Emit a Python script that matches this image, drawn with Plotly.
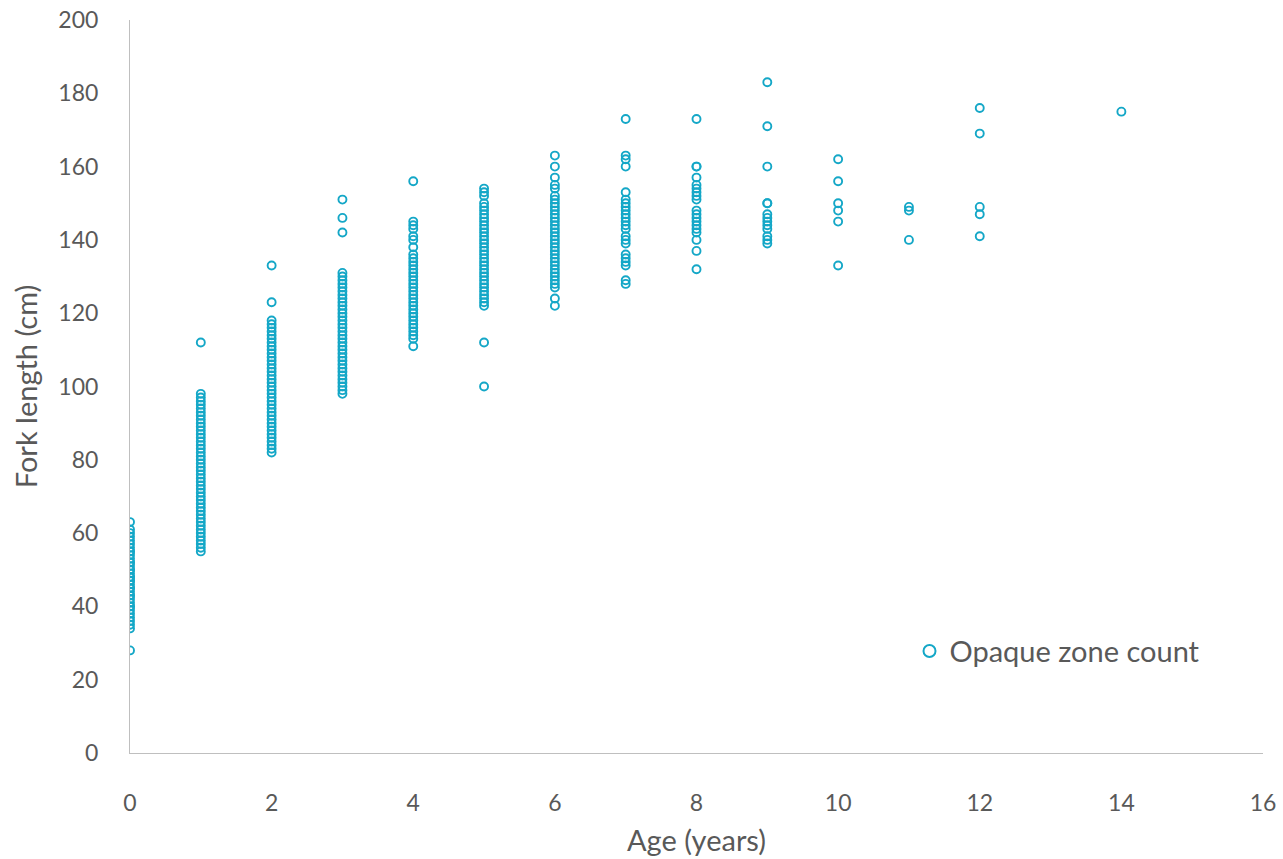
import plotly.graph_objects as go

age0 = [28, 34, 35, 36, 37, 38, 39, 40, 40, 41, 42, 43, 43, 44, 45, 45, 46, 47, 47, 48, 48, 49, 50, 50, 51, 52, 52, 53, 54, 55, 55, 56, 57, 58, 59, 60, 61, 63]
age1 = [55, 56, 57, 58, 59, 60, 61, 62, 63, 64, 65, 66, 67, 68, 69, 70, 71, 72, 73, 74, 75, 76, 77, 78, 79, 80, 81, 82, 83, 84, 85, 86, 87, 88, 89, 90, 91, 92, 93, 94, 95, 96, 97, 98, 112]
age2 = [82, 83, 84, 85, 86, 87, 88, 89, 90, 91, 92, 93, 94, 95, 96, 97, 98, 99, 100, 101, 102, 103, 104, 105, 106, 107, 108, 109, 110, 111, 112, 113, 114, 115, 116, 117, 118, 123, 133]
age3 = [98, 99, 100, 101, 102, 103, 104, 105, 106, 107, 108, 109, 110, 111, 112, 113, 114, 115, 116, 117, 118, 119, 120, 121, 122, 123, 124, 125, 126, 127, 128, 129, 130, 131, 142, 146, 151]
age4 = [111, 113, 114, 115, 116, 117, 118, 119, 120, 121, 122, 123, 124, 125, 126, 127, 128, 129, 130, 131, 132, 133, 134, 135, 136, 138, 140, 141, 143, 144, 145, 156]
age5 = [100, 112, 122, 123, 124, 125, 126, 127, 128, 129, 130, 131, 132, 133, 134, 135, 136, 137, 138, 139, 140, 141, 142, 143, 144, 145, 146, 147, 148, 149, 150, 152, 153, 154]
age6 = [122, 124, 127, 128, 129, 130, 131, 132, 133, 134, 135, 136, 137, 138, 139, 140, 141, 142, 143, 144, 145, 146, 147, 148, 149, 150, 151, 152, 154, 155, 157, 160, 163]
age7 = [128, 129, 133, 134, 135, 136, 139, 140, 141, 143, 144, 145, 146, 147, 148, 149, 150, 151, 153, 160, 162, 163, 173]
age8 = [132, 137, 140, 142, 143, 144, 145, 146, 147, 148, 151, 152, 153, 154, 155, 157, 160, 160, 173]
age9 = [139, 140, 141, 143, 144, 145, 146, 147, 150, 150, 160, 171, 183]
age10 = [133, 145, 148, 150, 156, 162]
age11 = [140, 148, 149]
age12 = [141, 147, 149, 169, 176]
age14 = [175]

groups = [(0, age0), (1, age1), (2, age2), (3, age3), (4, age4), (5, age5), (6, age6),
          (7, age7), (8, age8), (9, age9), (10, age10), (11, age11), (12, age12), (14, age14)]

xs, ys = [], []
for a, vals in groups:
    xs += [a] * len(vals)
    ys += vals

color = "#14A7C7"
text_color = "#595959"
font_family = "Lato, 'Open Sans', sans-serif"

fig = go.Figure()
fig.add_trace(go.Scatter(
    x=xs, y=ys, mode="markers", name="Opaque zone count",
    marker=dict(symbol="circle-open", size=8, color=color, line=dict(width=1.9, color=color)),
))

fig.update_layout(
    width=1283, height=859,
    margin=dict(l=130, r=20, t=20, b=106),
    paper_bgcolor="white", plot_bgcolor="white",
    font=dict(family=font_family, size=23, color=text_color),
    showlegend=True,
    legend=dict(x=0.688, y=0.139, xanchor="left", yanchor="middle",
                bgcolor="rgba(0,0,0,0)", font=dict(size=29, color=text_color),
                itemsizing="constant"),
    xaxis=dict(range=[0, 16], dtick=2, showgrid=False, zeroline=False,
               showline=True, linecolor="#BFBFBF", linewidth=1, ticks="",
               ticklabelstandoff=29, automargin=False,
               title=dict(text="Age (years)", standoff=16,
                          font=dict(family=font_family, size=29, color=text_color)),
               tickfont=dict(size=23, color=text_color)),
    yaxis=dict(range=[0, 200], dtick=20, showgrid=False, zeroline=False,
               showline=True, linecolor="#BFBFBF", linewidth=1, ticks="",
               ticklabelstandoff=26, automargin=False,
               title=dict(text="Fork length (cm)", standoff=12,
                          font=dict(family=font_family, size=29, color=text_color)),
               tickfont=dict(size=23, color=text_color)),
)

fig.write_html("out.html")
